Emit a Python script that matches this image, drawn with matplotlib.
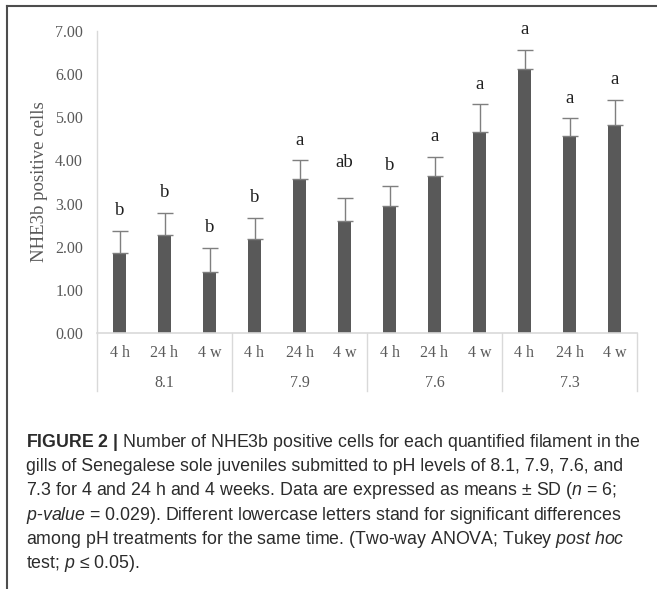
import numpy as np
import matplotlib
matplotlib.use("Agg")
import matplotlib.pyplot as plt
from matplotlib.lines import Line2D

# ── data ──────────────────────────────────────────────────────────────────────
PH_LEVELS = ["8.1", "7.9", "7.6", "7.3"]
TIMES     = ["4 h", "24 h", "4 w"]
MEANS     = [1.86, 2.28, 1.42,  2.19, 3.58, 2.60,  2.95, 3.63, 4.65,  6.13, 4.56, 4.82]
SD        = [0.51, 0.51, 0.55,  0.48, 0.42, 0.52,  0.46, 0.45, 0.65,  0.44, 0.42, 0.59]
LETTERS   = ["b", "b", "b",  "b", "a", "ab",  "b", "a", "a",  "a", "a", "a"]
YTICKS    = [0, 1, 2, 3, 4, 5, 6, 7]

CAPTION = [
    r"$\mathbf{FIGURE\ 2\ |}$ Number of NHE3b positive cells for each quantified filament in the",
    "gills of Senegalese sole juveniles submitted to pH levels of 8.1, 7.9, 7.6, and",
    r"7.3 for 4 and 24 h and 4 weeks. Data are expressed as means ± SD ($\mathit{n}$ = 6;",
    r"$\mathit{p}$-$\mathit{value}$ = 0.029). Different lowercase letters stand for significant differences",
    r"among pH treatments for the same time. (Two-way ANOVA; Tukey $\mathit{post\ hoc}$",
    r"test; $\mathit{p}$ ≤ 0.05).",
]

# ── style ─────────────────────────────────────────────────────────────────────
W, H, DPI = 657, 589, 100
SERIF = "Liberation Serif"
SANS  = "Liberation Sans"
plt.rcParams["mathtext.fontset"] = "custom"
plt.rcParams["mathtext.rm"] = SANS
plt.rcParams["mathtext.it"] = SANS + ":italic"
plt.rcParams["mathtext.bf"] = SANS + ":bold"

BAR_COLOR  = "#595959"
ERR_COLOR  = "#7f7f7f"
AXIS_COLOR = "#d9d9d9"
TICK_COLOR = "#595959"

fig = plt.figure(figsize=(W / DPI, H / DPI), dpi=DPI)

def px(x, y):
    """pixel coords (top-left origin) -> figure fraction"""
    return x / W, 1 - y / H

# plot area: x 97..637 px, y 31..333 px
left, top = px(97, 31)
right, bottom = px(637, 333)
ax = fig.add_axes([left, bottom, right - left, top - bottom])

x = np.arange(len(MEANS))
ax.bar(x, MEANS, width=0.31, color=BAR_COLOR, zorder=2)
ax.errorbar(x, MEANS, yerr=[np.zeros(len(SD)), SD], fmt="none",
            ecolor=ERR_COLOR, elinewidth=1.0, capsize=6, capthick=1.0, zorder=3)

for xi, m, s, lab in zip(x, MEANS, SD, LETTERS):
    off = 26 if lab == "ab" else 14.5
    ax.annotate(lab, (xi, m + s), xytext=(0, off), textcoords="offset points",
                ha="center", va="center", fontsize=13.5, family=SERIF,
                color="#1f1f1f")

ax.set_xlim(-0.5, len(MEANS) - 0.5)
ax.set_ylim(0, 7)
ax.set_yticks(YTICKS)
ax.set_yticklabels([f"{v:.2f}" for v in YTICKS], family=SERIF, fontsize=11.5,
                   color=TICK_COLOR)
ax.tick_params(axis="y", length=0, pad=10)
ax.set_xticks([])

for side in ["top", "right"]:
    ax.spines[side].set_visible(False)
ax.spines["left"].set_color(AXIS_COLOR)
ax.spines["bottom"].set_color(AXIS_COLOR)
ax.spines["left"].set_linewidth(1.0)
ax.spines["bottom"].set_linewidth(1.2)

ax.set_ylabel("NHE3b positive cells", family=SERIF, fontsize=13.5,
              color=TICK_COLOR, labelpad=5)

# two-level category axis: times under bars, pH levels under each group
trans = ax.get_xaxis_transform()
for i, t in enumerate(TIMES * len(PH_LEVELS)):
    ax.annotate(t, (i, 0), xycoords=trans, xytext=(0, -14.5),
                textcoords="offset points", ha="center", va="center",
                family=SERIF, fontsize=11.5, color=TICK_COLOR)
for g, lab in enumerate(PH_LEVELS):
    ax.annotate(lab, (g * 3 + 1, 0), xycoords=trans, xytext=(0, -36),
                textcoords="offset points", ha="center", va="center",
                family=SERIF, fontsize=11.5, color=TICK_COLOR)
for g in range(len(PH_LEVELS) + 1):
    ax.plot([g * 3 - 0.5] * 2, [0, -58 / 302], transform=trans, clip_on=False,
            color=AXIS_COLOR, linewidth=1.0)

# frame lines along top and left edge
for xs, ys in [((7, W), (6, 6)), ((7, 7), (6, H))]:
    p0, p1 = px(xs[0], ys[0]), px(xs[1], ys[1])
    fig.add_artist(Line2D([p0[0], p1[0]], [p0[1], p1[1]],
                          color="#4d4d4d", linewidth=1.5))

# caption
for i, line in enumerate(CAPTION):
    cx, cy = px(26, 447 + i * 24.2)
    fig.text(cx, cy, line, ha="left", va="baseline", family=SANS,
             fontsize=12.8, color="#2b2b2b")

fig.savefig("out.png", dpi=DPI)
